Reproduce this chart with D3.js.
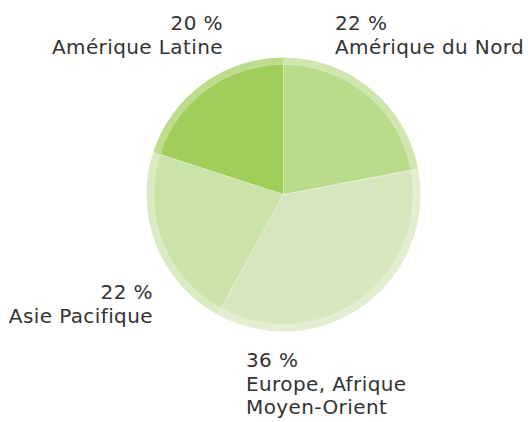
<!DOCTYPE html>
<html>
<head>
<meta charset="utf-8">
<script src="https://cdn.jsdelivr.net/npm/d3@7"></script>
<style>
  body { margin: 0; background: #fff; }
  text { font-family: "DejaVu Sans", sans-serif; fill: #333; }
</style>
</head>
<body>
<div id="chart"></div>
<script>
// data, clockwise from 12 o'clock
var regions = ["Amérique du Nord", "Europe, Afrique|Moyen-Orient", "Asie Pacifique", "Amérique Latine"];
var shares = [22, 36, 22, 20];
var sliceColors = ["#badb8b", "#d7e7bd", "#cae3a9", "#a1cd5b"];

// where each label block sits (x, first baseline, anchor)
var labelPlaces = [
  {x: 335, y: 30, anchor: "start"},
  {x: 246, y: 367, anchor: "start"},
  {x: 153, y: 299, anchor: "end"},
  {x: 223, y: 30, anchor: "end"}
];

var width = 528, height = 422;
var cx = 283.5, cy = 194.5;
var rOuter = 137, rInner = 130;

var svg = d3.select("#chart")
  .append("svg")
    .attr("width", width)
    .attr("height", height);

var pie = d3.pie()
  .sort(null)
  .value(function(d) { return d; });

var arcs = pie(shares);

var ringArc = d3.arc().innerRadius(0).outerRadius(rOuter);
var coreArc = d3.arc().innerRadius(0).outerRadius(rInner);

var g = svg.append("g")
  .attr("transform", "translate(" + cx + "," + cy + ")");

// lighter outer rim
g.selectAll("path.ring")
  .data(arcs)
  .enter()
  .append("path")
    .attr("class", "ring")
    .attr("d", ringArc)
    .style("fill", function(d, i) { return d3.interpolateRgb(sliceColors[i], "#fff")(0.3); });

// slices
g.selectAll("path.core")
  .data(arcs)
  .enter()
  .append("path")
    .attr("class", "core")
    .attr("d", coreArc)
    .style("fill", function(d, i) { return sliceColors[i]; });

// faint dividers
g.selectAll("path.edge")
  .data(arcs)
  .enter()
  .append("path")
    .attr("class", "edge")
    .attr("d", coreArc)
    .style("fill", "none")
    .style("stroke", "#fff")
    .style("stroke-opacity", 0.3)
    .style("stroke-width", 0.8);

// labels
var lineH = 23.5;
regions.forEach(function(name, i) {
  var p = labelPlaces[i];
  var lines = [shares[i] + " %"].concat(name.split("|"));
  var t = svg.append("text")
    .attr("text-anchor", p.anchor)
    .style("font-size", "20px")
    .style("letter-spacing", "0.4px");
  lines.forEach(function(s, k) {
    t.append("tspan")
      .attr("x", p.x)
      .attr("y", p.y + k * lineH)
      .text(s);
  });
});
</script>
</body>
</html>
